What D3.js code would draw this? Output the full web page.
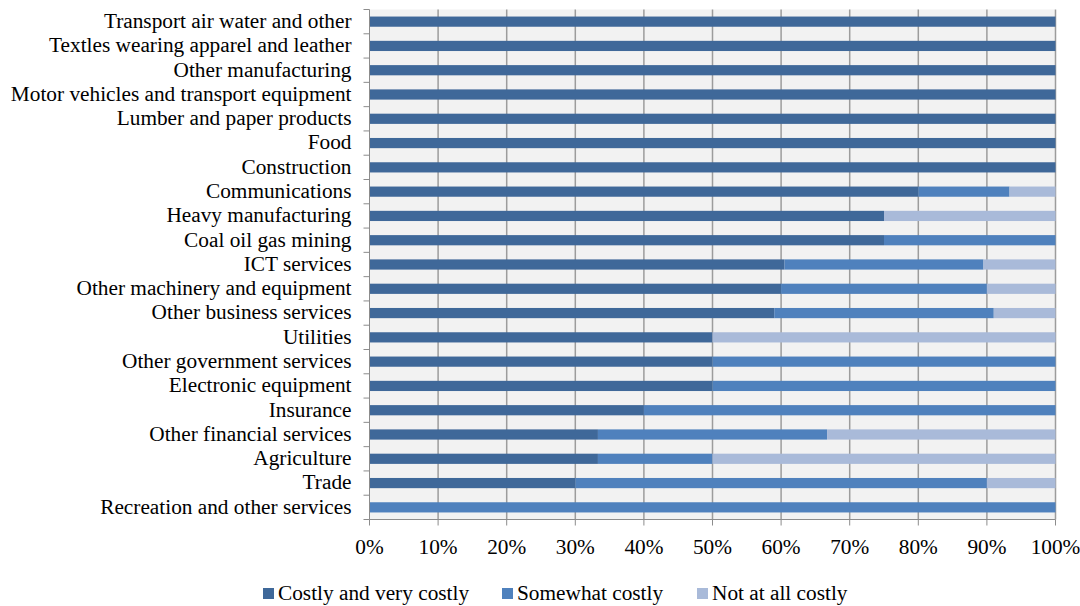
<!DOCTYPE html>
<html><head><meta charset="utf-8">
<script src="https://cdn.jsdelivr.net/npm/d3@7"></script>
<style>html,body{margin:0;padding:0;background:#fff;}</style>
</head><body>
<svg id="c" width="1080" height="606"></svg>
<script>
const categories = ["Transport air water and other","Textles wearing apparel and leather","Other manufacturing","Motor vehicles and transport equipment","Lumber and paper products","Food","Construction","Communications","Heavy manufacturing","Coal oil gas mining","ICT services","Other machinery and equipment","Other business services","Utilities","Other government services","Electronic equipment","Insurance","Other financial services","Agriculture","Trade","Recreation and other services"];
const costly   = [100,100,100,100,100,100,100,80,75,75,60.5,60,59,50,50,50,40,33.3,33.3,30,0];
const somewhat = [0,0,0,0,0,0,0,13.3,0,25,29,30,32,0,50,50,60,33.4,16.7,60,100];
const notAtAll = [0,0,0,0,0,0,0,6.7,25,0,10.5,10,9,50,0,0,0,33.3,50,10,0];
const seriesNames = ["Costly and very costly","Somewhat costly","Not at all costly"];
const colors = ["#3F6899","#4F81BD","#A9BAD9"];
const xTicks = [0,10,20,30,40,50,60,70,80,90,100];

const svg = d3.select("#c");
const L = 369.5, R = 1055.5, T = 9.5, B = 519.5;
const x = d3.scaleLinear().domain([0,100]).range([L,R]);
const y = d3.scaleBand().domain(categories).range([T,B]).paddingInner(0.58).paddingOuter(0.29);
const font = "'Liberation Serif','Times New Roman',serif";
const fs = 21.3;

svg.append("rect").attr("x",L).attr("y",T).attr("width",R-L).attr("height",B-T).attr("fill","#F2F2F2");
svg.append("g").selectAll("line").data(xTicks.slice(1)).join("line")
  .attr("x1",d=>x(d)).attr("x2",d=>x(d)).attr("y1",T).attr("y2",B)
  .attr("stroke","#9C9C9C").attr("stroke-width",1.5);

const data = categories.map((c,i)=>({cat:c, v:[costly[i],somewhat[i],notAtAll[i]]}));
const g = svg.append("g");
data.forEach(d=>{
  let acc = 0;
  d.v.forEach((v,k)=>{
    if (v>0) g.append("rect").attr("x",x(acc)).attr("y",y(d.cat)).attr("width",x(acc+v)-x(acc)).attr("height",y.bandwidth()).attr("fill",colors[k]);
    acc += v;
  });
});

// left axis
const band = (B-T)/categories.length;
const ya = svg.append("g");
ya.append("line").attr("x1",L).attr("x2",L).attr("y1",T).attr("y2",B).attr("stroke","#8C8C8C").attr("stroke-width",1);
d3.range(categories.length+1).forEach(i=>{
  ya.append("line").attr("x1",L-6).attr("x2",L).attr("y1",T+i*band).attr("y2",T+i*band).attr("stroke","#8C8C8C");
});
ya.selectAll("text").data(categories).join("text")
  .attr("x",L-18).attr("y",d=>y(d)+y.bandwidth()/2).attr("dy","0.3em")
  .attr("text-anchor","end").attr("font-family",font).attr("font-size",fs).attr("fill","#000").text(d=>d);

// bottom axis
const xa = svg.append("g");
xa.append("line").attr("x1",L).attr("x2",R).attr("y1",B).attr("y2",B).attr("stroke","#8C8C8C");
xa.selectAll("line.t").data(xTicks).join("line").attr("class","t")
  .attr("x1",d=>x(d)).attr("x2",d=>x(d)).attr("y1",B).attr("y2",B+6).attr("stroke","#8C8C8C");
xa.selectAll("text").data(xTicks).join("text")
  .attr("x",d=>x(d)).attr("y",548).attr("dy","0.3em").attr("text-anchor","middle")
  .attr("font-family",font).attr("font-size",fs).attr("fill","#000").text(d=>d+"%");

// legend
const legX = [263, 502, 697];
const lg = svg.append("g");
seriesNames.forEach((n,i)=>{
  lg.append("rect").attr("x",legX[i]).attr("y",588).attr("width",11).attr("height",11).attr("fill",colors[i]);
  lg.append("text").attr("x",legX[i]+15).attr("y",594).attr("dy","0.3em").attr("font-family",font).attr("font-size",fs).attr("fill","#000").text(n);
});
</script>
</body></html>
